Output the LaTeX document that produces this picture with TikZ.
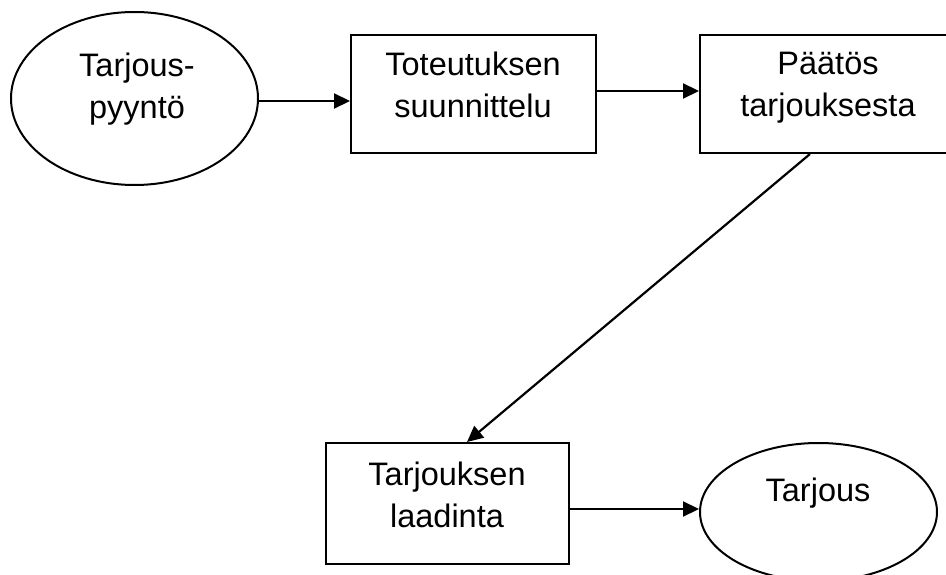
\documentclass[tikz,border=0pt]{standalone}
\usepackage{fontspec}
\setmainfont{Liberation Sans}
\usetikzlibrary{shapes.geometric,arrows.meta}
\begin{document}
\begin{tikzpicture}[x=1pt,y=-1pt,
  shp/.style={draw=black,line width=2pt,inner sep=0pt,fill=none},
  boxnode/.style={shp,rectangle},
  ellnode/.style={shp,ellipse},
  txt/.style={inner sep=0pt,align=center,font=\fontsize{32.5}{42}\selectfont},
  arr/.style={line width=2.2pt,-{Triangle[length=16pt,width=15pt]}}]
\useasboundingbox (0,0) rectangle (946,575);
% shapes
\node[ellnode,minimum width=247pt,minimum height=173pt] (e1) at (134.5,98.5) {};
\node[boxnode,minimum width=245pt,minimum height=118pt] (b1) at (473.5,94) {};
\node[boxnode,minimum width=256pt,minimum height=118pt] (b2) at (828,94) {};
\node[boxnode,minimum width=243pt,minimum height=121pt] (b3) at (447.5,503.5) {};
\node[ellnode,minimum width=237pt,minimum height=138pt] (e2) at (818.5,512) {};
% texts
\node[txt] (t1) at (137,88.7) {Tarjous-\\pyyntö};
\node[txt] (t2) at (473,84.9) {Toteutuksen\\suunnittelu};
\node[txt] (t3) at (828,87.7) {Päätös\\tarjouksesta};
\node[txt] (t4) at (447,494.4) {Tarjouksen\\laadinta};
\node[txt,anchor=base] (t5) at (818,501) {Tarjous};
% connectors
\draw[arr] ([yshift=-2.5pt]e1.east) -- ([yshift=-7pt]b1.west);
\draw[arr] ([yshift=3pt]b1.east) -- ([yshift=3pt]b2.west);
\draw[arr] ([xshift=-18pt]b2.south) -- ([xshift=19.5pt]b3.north);
\draw[arr] ([yshift=-5.5pt]b3.east) -- ([yshift=3pt]e2.west);
\end{tikzpicture}
\end{document}
